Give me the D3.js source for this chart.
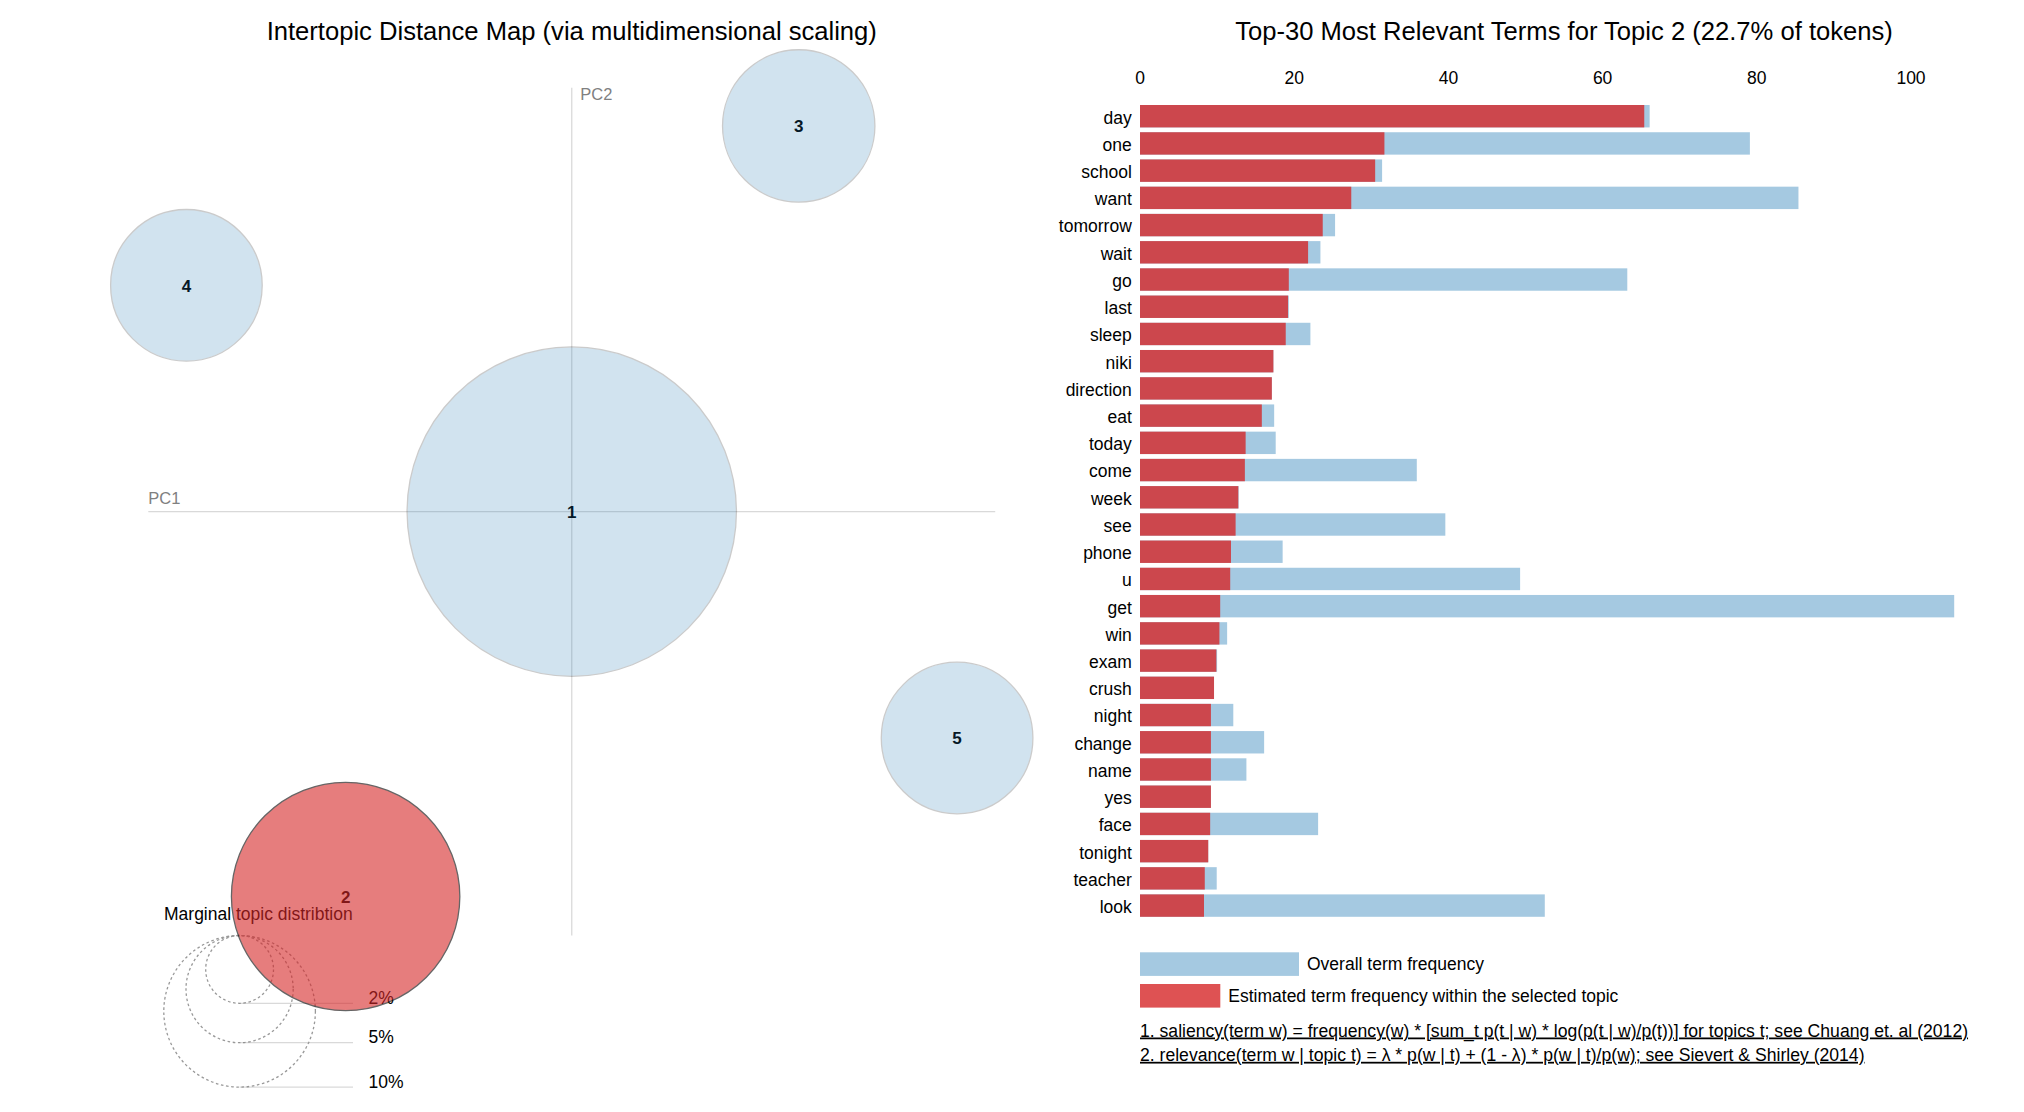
<!DOCTYPE html>
<html>
<head>
<meta charset="utf-8">
<script src="https://cdn.jsdelivr.net/npm/d3@7"></script>
<style>
  html, body { margin: 0; padding: 0; background: #fff; }
  svg text { font-family: "Liberation Sans", Arial, Helvetica, sans-serif; }
</style>
</head>
<body>
<svg id="chart" width="2024" height="1112"></svg>
<script>
// ---------- DATA ----------
const topicIds   = [1, 2, 3, 4, 5];
const topicPC1   = [0.000, -0.267, 0.268, -0.455, 0.455];
const topicPC2   = [0.000, -0.454, 0.455, 0.267, -0.267];
const topicFreq  = [47.2, 22.7, 10.1, 10.0, 10.0];   // % of tokens
const selectedTopic = 2;

const terms = ["day","one","school","want","tomorrow","wait","go","last","sleep","niki",
  "direction","eat","today","come","week","see","phone","u","get","win",
  "exam","crush","night","change","name","yes","face","tonight","teacher","look"];
const overallFreq = [66.1, 79.1, 31.4, 85.4, 25.3, 23.4, 63.2, 19.3, 22.1, 17.3,
  17.1, 17.4, 17.6, 35.9, 12.8, 39.6, 18.5, 49.3, 105.6, 11.3,
  10.0, 9.6, 12.1, 16.1, 13.8, 9.2, 23.1, 8.85, 9.95, 52.5];
const topicTermFreq = [65.4, 31.7, 30.5, 27.4, 23.7, 21.8, 19.3, 19.2, 18.9, 17.3,
  17.1, 15.8, 13.7, 13.6, 12.75, 12.4, 11.8, 11.7, 10.4, 10.3,
  9.9, 9.6, 9.2, 9.2, 9.2, 9.2, 9.1, 8.85, 8.4, 8.3];
const xTicks = [0, 20, 40, 60, 80, 100];
const guideLevels = [2, 5, 10];
const guideLabels = ["2%", "5%", "10%"];

const leftTitle = "Intertopic Distance Map (via multidimensional scaling)";
const rightTitle = "Top-30 Most Relevant Terms for Topic 2 (22.7% of tokens)";
const legendLabels = ["Overall term frequency", "Estimated term frequency within the selected topic"];
const footnotes = [
  "1. saliency(term w) = frequency(w) * [sum_t p(t | w) * log(p(t | w)/p(t))] for topics t; see Chuang et. al (2012)",
  "2. relevance(term w | topic t) = \u03bb * p(w | t) + (1 - \u03bb) * p(w | t)/p(w); see Sievert & Shirley (2014)"
];

// ---------- STYLE ----------
const color1 = "#1f77b4", color2 = "#d62728";
const FS = 17.5;
const svg = d3.select("#chart");
svg.append("rect").attr("width", 2024).attr("height", 1112).attr("fill", "#fff");

// ---------- LEFT PANEL (MDS) ----------
const mdsLeft = 148.3, mdsRight = 995.2, mdsTop = 87.8, mdsBottom = 935.5;
const xS = d3.scaleLinear().domain([-0.5, 0.5]).range([mdsLeft, mdsRight]);
const yS = d3.scaleLinear().domain([-0.5, 0.5]).range([mdsBottom, mdsTop]);
const rS = d3.scaleSqrt().domain([0, 100]).range([0, 239.7]);

svg.append("text").attr("x", (mdsLeft + mdsRight) / 2).attr("y", 39.8)
  .attr("text-anchor", "middle").attr("font-size", 25.6).attr("fill", "#000").text(leftTitle);

const left = svg.append("g");
left.append("line").attr("x1", xS(-0.5)).attr("x2", xS(0.5)).attr("y1", yS(0)).attr("y2", yS(0))
  .attr("stroke", "gray").attr("stroke-opacity", 0.3).attr("stroke-width", 1.3);
left.append("line").attr("x1", xS(0)).attr("x2", xS(0)).attr("y1", yS(0.5)).attr("y2", yS(-0.5))
  .attr("stroke", "gray").attr("stroke-opacity", 0.3).attr("stroke-width", 1.3);
left.append("text").attr("x", xS(-0.5)).attr("y", yS(0) - 7.5).attr("font-size", 16.5)
  .attr("fill", "#808080").text("PC1");
left.append("text").attr("x", xS(0) + 8.5).attr("y", yS(0.5) + 11.7).attr("font-size", 16.5)
  .attr("fill", "#808080").text("PC2");

// circle guide legend
const guideCx = 239.6, guideX2 = 353, guideTop = mdsBottom;
left.append("text").attr("x", 164).attr("y", 919.5).attr("font-size", FS).attr("fill", "#000")
  .text("Marginal topic distribtion");
guideLevels.forEach((lv, i) => {
  const r = rS(lv);
  left.append("circle").attr("cx", guideCx).attr("cy", guideTop + r).attr("r", r)
    .attr("fill", "none").attr("stroke", "#999").attr("stroke-width", 1.3).attr("stroke-dasharray", "2.6 2.6");
  left.append("line").attr("x1", guideCx).attr("x2", guideX2)
    .attr("y1", guideTop + 2 * r).attr("y2", guideTop + 2 * r)
    .attr("stroke", "gray").attr("stroke-opacity", 0.3).attr("stroke-width", 1.3);
  left.append("text").attr("x", guideX2 + 15.5).attr("y", guideTop + 2 * r + 0.5)
    .attr("font-size", FS).attr("fill", "#000").text(guideLabels[i]);
});

// topic labels (beneath the circles)
topicIds.forEach((t, i) => {
  left.append("text").attr("x", xS(topicPC1[i])).attr("y", yS(topicPC2[i]) + 6.5)
    .attr("text-anchor", "middle").attr("font-size", 17).attr("font-weight", "bold")
    .attr("fill", "#000").text(t);
});
// topic circles
topicIds.forEach((t, i) => {
  const sel = t === selectedTopic;
  left.append("circle").attr("cx", xS(topicPC1[i])).attr("cy", yS(topicPC2[i]))
    .attr("r", rS(topicFreq[i]))
    .attr("fill", sel ? color2 : color1).attr("stroke", "black").attr("stroke-width", 1.3)
    .attr("opacity", sel ? 0.6 : 0.2);
});

// ---------- RIGHT PANEL (BARS) ----------
const bx0 = 1140;
const xB = d3.scaleLinear().domain([0, d3.max(overallFreq)]).range([bx0, 1954.2]);
const yB = d3.scaleBand().domain(terms).range([102.6, 919.2]).paddingInner(0.177).paddingOuter(0.0885);

svg.append("text").attr("x", 1564).attr("y", 39.8).attr("text-anchor", "middle")
  .attr("font-size", 25.6).attr("fill", "#000").text(rightTitle);

const right = svg.append("g");
xTicks.forEach(v => {
  right.append("text").attr("x", xB(v)).attr("y", 83.6).attr("text-anchor", "middle")
    .attr("font-size", FS).attr("fill", "#000").text(v);
});
terms.forEach((t, i) => {
  right.append("rect").attr("x", xB(0)).attr("y", yB(t)).attr("height", yB.bandwidth())
    .attr("width", xB(overallFreq[i]) - xB(0)).attr("fill", color1).attr("opacity", 0.4);
  right.append("rect").attr("x", xB(0)).attr("y", yB(t)).attr("height", yB.bandwidth())
    .attr("width", xB(topicTermFreq[i]) - xB(0)).attr("fill", color2).attr("opacity", 0.8);
  right.append("text").attr("x", 1131.8).attr("y", yB(t) + yB.bandwidth() / 2 + 7.4)
    .attr("text-anchor", "end").attr("font-size", FS).attr("fill", "#000").text(t);
});

// legend
const lg = [
  {y: 952.3, w: 159, fill: color1, op: 0.4},
  {y: 984.0, w: 80.3, fill: color2, op: 0.8}
];
lg.forEach((d, i) => {
  right.append("rect").attr("x", bx0).attr("y", d.y).attr("width", d.w).attr("height", 23.6)
    .attr("fill", d.fill).attr("opacity", d.op);
  right.append("text").attr("x", bx0 + d.w + 8).attr("y", d.y + 11.8 + 6)
    .attr("font-size", FS).attr("fill", "#000").text(legendLabels[i]);
});
footnotes.forEach((f, i) => {
  right.append("text").attr("x", bx0).attr("y", 1036.5 + i * 24.3)
    .attr("font-size", 17.6).attr("fill", "#000").attr("text-decoration", "underline").text(f);
});
</script>
</body>
</html>
